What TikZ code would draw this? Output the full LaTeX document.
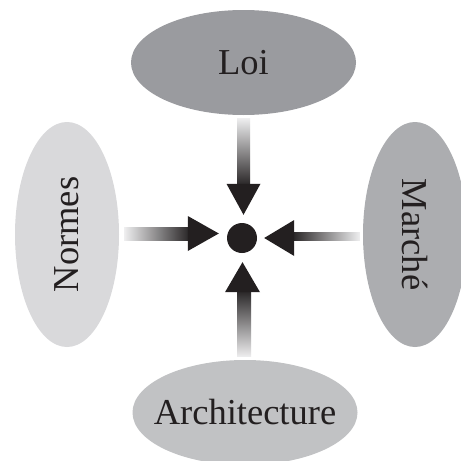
\documentclass[tikz,border=0pt]{standalone}
\usepackage{fontspec}
\setmainfont{Liberation Serif}
\usepackage{tikz}
\usetikzlibrary{calc}
\usetikzlibrary{shapes.geometric}

\definecolor{loigray}{RGB}{154,155,159}
\definecolor{normesgray}{RGB}{217,217,219}
\definecolor{marchegray}{RGB}{172,173,176}
\definecolor{archigray}{RGB}{193,194,196}
\definecolor{inkblack}{RGB}{35,31,32}
\definecolor{fadegray}{RGB}{238,238,239}
\definecolor{shaftdark}{RGB}{45,42,43}

\tikzset{
  force/.style={ellipse, inner sep=0pt, text=inkblack, minimum width=225pt, minimum height=105pt},
  head/.style={fill=inkblack}
}

\begin{document}
\begin{tikzpicture}[x=1pt, y=-1pt, font=\fontsize{36.5}{40}\selectfont]

\clip (0,0) rectangle (461,461);
\fill[white] (0,0) rectangle (461,461);

\node[force, fill=loigray] (loi) at (243.5,62.5) {Loi};
\node[force, fill=normesgray, rotate=90, minimum height=104pt] (normes) at (67,234.5) {Normes};
\node[force, fill=marchegray, rotate=-90, minimum height=104pt] (marche) at (415,234.5) {Marché};
\node[force, fill=archigray, inner xsep=-14pt] (archi) at (245,412.5) {Architecture};

\node[circle, fill=inkblack, minimum size=30pt, inner sep=0pt] (dot) at (242,238) {};

% top
\shade[top color=fadegray, bottom color=shaftdark] ($(loi.south)+(-6.5,3)$) rectangle ($(dot.north)+(8,-39)$);
\fill[head] ($(dot.north)+(1.5,-8)$) -- ++(-17,-31) -- ++(34,0) -- cycle;

% left
\shade[left color=fadegray, right color=shaftdark] ($(normes.south)+(5,-7.5)$) rectangle ($(dot.west)+(-39,2)$);
\fill[head] ($(dot.west)+(-8,-4.5)$) -- ++(-31,-17.5) -- ++(0,35) -- cycle;

% right
\shade[left color=shaftdark, right color=fadegray] ($(dot.east)+(37,-6)$) rectangle ($(marche.south)+(-3,6)$);
\fill[head] ($(dot.east)+(7,0)$) -- ++(30,-18) -- ++(0,36) -- cycle;

% bottom
\shade[top color=shaftdark, bottom color=fadegray] ($(dot.south)+(-5,39)$) rectangle ($(archi.north)+(6,-3)$);
\fill[head] ($(dot.south)+(0.5,9)$) -- ++(-17.5,30) -- ++(35,0) -- cycle;

\end{tikzpicture}
\end{document}
